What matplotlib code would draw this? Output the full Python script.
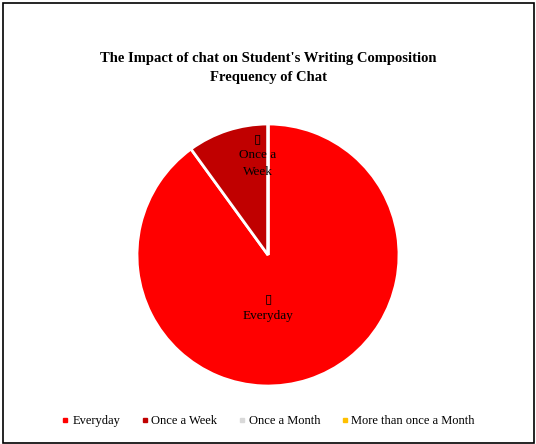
import matplotlib.pyplot as plt
from matplotlib.patches import Rectangle

categories = ['Everyday', 'Once a Week', 'Once a Month', 'More than once a Month']
shares = [90, 10, 0, 0]
colors = ['#FF0000', '#C00000', '#D9D9D9', '#FFC000']
title = "The Impact of chat on Student's Writing Composition\nFrequency of Chat"

plt.rcParams['font.family'] = ['Liberation Serif', 'DejaVu Serif']

W, H = 536, 444
fig = plt.figure(figsize=(W / 100, H / 100), dpi=100)
fig.patch.set_facecolor('white')

# outer frame
fig.add_artist(Rectangle((2.5 / W, 1.5 / H), 531 / W, 439 / H, transform=fig.transFigure,
                         fill=False, edgecolor='black', linewidth=1.2))

cx, cy, r = 268, 255, 131
ax = fig.add_axes([(cx - r) / W, (H - cy - r) / H, 2 * r / W, 2 * r / H])
wedges, texts = ax.pie(shares, colors=colors, startangle=90, counterclock=False,
                       wedgeprops=dict(edgecolor='white', linewidth=2), radius=1)
ax.set_xlim(-1, 1)
ax.set_ylim(-1, 1)
ax.set_aspect('equal')
ax.axis('off')

# data labels (only the non-zero slices show)
label_pos = {0: (0.0, -0.40), 1: (-0.08, 0.76)}
for i, (x, y) in label_pos.items():
    ax.text(x, y, '\u25af\n' + categories[i].replace('Once a ', 'Once a\n'),
            ha='center', va='center', fontsize=9.5, linespacing=1.5, color='black')

fig.text(0.5, 1 - 68 / H, title, ha='center', va='center', fontsize=10.5,
         fontweight='bold', linespacing=1.6)

handles = [plt.Line2D([], [], marker='s', linestyle='', markersize=3.2,
                      markerfacecolor=c, markeredgecolor=c) for c in colors]
fig.legend(handles, categories, loc='center', bbox_to_anchor=(0.5, 1 - 421 / H),
           ncol=4, frameon=False, fontsize=9, handletextpad=0.2, columnspacing=1.6,
           handlelength=0.7)

fig.savefig('out.png', dpi=100, facecolor='white')
